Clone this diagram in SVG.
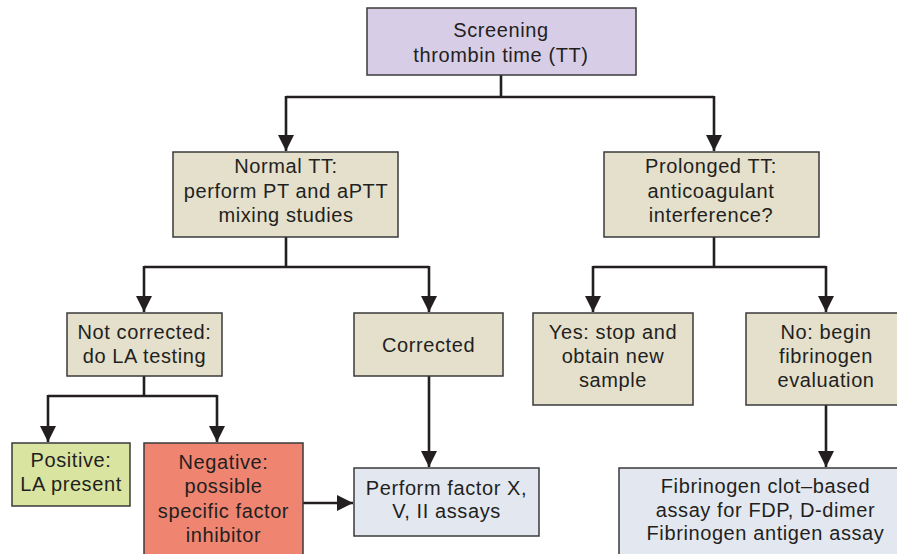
<svg xmlns="http://www.w3.org/2000/svg" width="897" height="554" viewBox="0 0 897 554">
<style>
.box{stroke:#3a3a3a;stroke-width:1.5}
.lav{fill:#d8cde6}
.bei{fill:#e4e0cc}
.grn{fill:#d9e4a0}
.sal{fill:#ef8571}
.blu{fill:#e3e7f0}
text{font-family:"Liberation Sans",Arial,sans-serif;font-size:20px;letter-spacing:0.6px;fill:#231f20;text-anchor:middle}
.c{fill:none;stroke:#231f20;stroke-width:2.6}
</style>
<defs>
<marker id="ah" markerUnits="userSpaceOnUse" markerWidth="16" markerHeight="18" refX="16" refY="8" orient="auto" viewBox="0 0 16 16">
<path d="M0,0 L16,8 L0,16 Z" fill="#231f20"/>
</marker>
</defs>
<rect width="897" height="554" fill="#ffffff"/>
<g id="connectors">
<path class="c" d="M501,75 V97"/>
<path class="c" d="M286,97 H714"/>
<path class="c" d="M286,96 V151" marker-end="url(#ah)"/>
<path class="c" d="M714,96 V151" marker-end="url(#ah)"/>
<path class="c" d="M286,237 V267"/>
<path class="c" d="M144,267 H429"/>
<path class="c" d="M144,266 V312" marker-end="url(#ah)"/>
<path class="c" d="M429,266 V312" marker-end="url(#ah)"/>
<path class="c" d="M714,237 V267"/>
<path class="c" d="M593,267 H826"/>
<path class="c" d="M593,266 V312" marker-end="url(#ah)"/>
<path class="c" d="M826,266 V312" marker-end="url(#ah)"/>
<path class="c" d="M144,376 V396"/>
<path class="c" d="M48,396 H217"/>
<path class="c" d="M48,395 V442" marker-end="url(#ah)"/>
<path class="c" d="M217,395 V442" marker-end="url(#ah)"/>
<path class="c" d="M429,376 V467" marker-end="url(#ah)"/>
<path class="c" d="M303,503 H353" marker-end="url(#ah)"/>
<path class="c" d="M826,405 V467" marker-end="url(#ah)"/>
</g>
<g id="screening">
<rect class="box lav" x="367" y="8" width="269" height="67"/>
<text x="501" y="37">Screening</text>
<text x="501" y="62">thrombin time (TT)</text>
</g>
<g id="normal">
<rect class="box bei" x="173" y="152" width="225" height="85"/>
<text x="286" y="173">Normal TT:</text>
<text x="286" y="198">perform PT and aPTT</text>
<text x="286" y="222">mixing studies</text>
</g>
<g id="prolonged">
<rect class="box bei" x="604" y="152" width="215" height="85"/>
<text x="711" y="173">Prolonged TT:</text>
<text x="711" y="198">anticoagulant</text>
<text x="711" y="222">interference?</text>
</g>
<g id="notcorrected">
<rect class="box bei" x="67" y="313" width="155" height="63"/>
<text x="144.5" y="339">Not corrected:</text>
<text x="144.5" y="363">do LA testing</text>
</g>
<g id="corrected">
<rect class="box bei" x="354" y="313" width="149" height="63"/>
<text x="428.5" y="352">Corrected</text>
</g>
<g id="yes">
<rect class="box bei" x="533" y="313" width="160" height="92"/>
<text x="613" y="339">Yes: stop and</text>
<text x="613" y="363">obtain new</text>
<text x="613" y="387">sample</text>
</g>
<g id="no">
<rect class="box bei" x="746" y="313" width="160" height="92"/>
<text x="826" y="339">No: begin</text>
<text x="826" y="363">fibrinogen</text>
<text x="826" y="387">evaluation</text>
</g>
<g id="positive">
<rect class="box grn" x="12" y="443" width="118" height="63"/>
<text x="71" y="467">Positive:</text>
<text x="71" y="491">LA present</text>
</g>
<g id="negative">
<rect class="box sal" x="144" y="443" width="159" height="120"/>
<text x="223.5" y="469">Negative:</text>
<text x="223.5" y="493">possible</text>
<text x="223.5" y="518">specific factor</text>
<text x="223.5" y="542">inhibitor</text>
</g>
<g id="perform">
<rect class="box blu" x="354" y="468" width="185" height="68"/>
<text x="446.5" y="495">Perform factor X,</text>
<text x="446.5" y="518">V, II assays</text>
</g>
<g id="fibrinogen">
<rect class="box blu" x="619" y="468" width="290" height="100"/>
<text x="765.5" y="493">Fibrinogen clot–based</text>
<text x="765.5" y="517">assay for FDP, D-dimer</text>
<text x="765.5" y="540">Fibrinogen antigen assay</text>
</g>
</svg>
